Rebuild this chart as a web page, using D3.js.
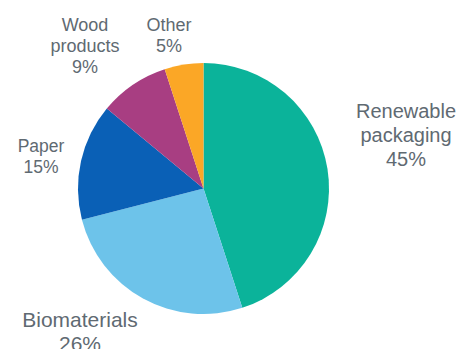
<!DOCTYPE html>
<html>
<head>
<meta charset="utf-8">
<script src="https://cdn.jsdelivr.net/npm/d3@7"></script>
<style>
  body { margin: 0; background: #fff; }
  svg { display: block; }
  .lbl { font-family: "Liberation Sans", Arial, sans-serif; fill: #5f6a72; }
</style>
</head>
<body>
<div id="chart"></div>
<script>
// data
const categories = ['Renewable packaging', 'Biomaterials', 'Paper', 'Wood products', 'Other'];
const shares = [45, 26, 15, 9, 5];
const labelLines = [
  ['Renewable', 'packaging', '45%'],
  ['Biomaterials', '26%'],
  ['Paper', '15%'],
  ['Wood', 'products', '9%'],
  ['Other', '5%']
];

const colors = ['#0bb39a', '#6dc3ea', '#0a60b6', '#a83e82', '#fba726'];

// where each label sits (x centre, first baseline, font size, line step)
const labelLayout = [
  { x: 406, y: 118, size: 20, step: 24 },
  { x: 80, y: 327, size: 21, step: 24 },
  { x: 41, y: 152, size: 17.5, step: 21 },
  { x: 85, y: 31, size: 18, step: 21 },
  { x: 169, y: 31, size: 18, step: 21 }
];

const width = 460, height = 349;
const cx = 203.5, cy = 188.5, radius = 125.5;

const svg = d3.select('#chart').append('svg')
  .attr('width', width)
  .attr('height', height);

const pie = d3.pie().sort(null).value(d => d)(shares);
const arc = d3.arc().innerRadius(0).outerRadius(radius);

svg.append('g')
  .attr('transform', 'translate(' + cx + ',' + cy + ')')
  .selectAll('path')
  .data(pie)
  .enter()
  .append('path')
  .attr('d', arc)
  .attr('fill', (d, i) => colors[i]);

const labels = svg.selectAll('text.lbl')
  .data(categories)
  .enter()
  .append('text')
  .attr('class', 'lbl')
  .attr('text-anchor', 'middle')
  .attr('font-size', (d, i) => labelLayout[i].size + 'px');

labels.each(function (d, i) {
  const lay = labelLayout[i];
  d3.select(this).selectAll('tspan')
    .data(labelLines[i])
    .enter()
    .append('tspan')
    .attr('x', lay.x)
    .attr('y', (t, j) => lay.y + j * lay.step)
    .text(t => t);
});
</script>
</body>
</html>
